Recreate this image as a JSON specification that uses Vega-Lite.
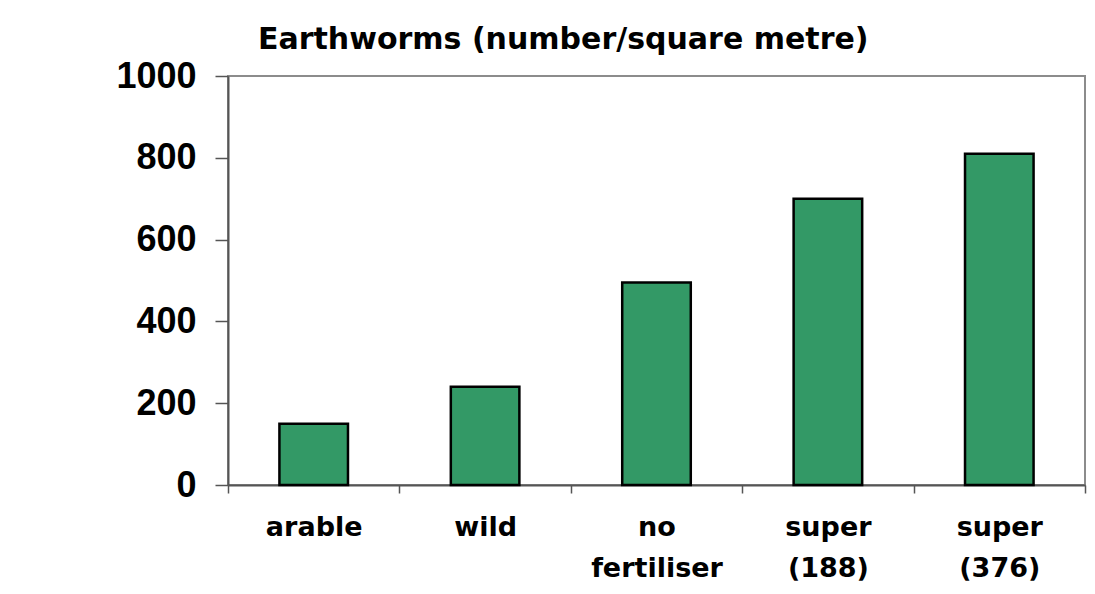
{
  "$schema": "https://vega.github.io/schema/vega-lite/v6.json",
  "width": 857,
  "height": 409,
  "autosize": "none",
  "padding": {"left": 228, "top": 76, "right": 10, "bottom": 109},
  "background": "white",
  "title": {
    "text": "Earthworms (number/square metre)",
    "anchor": "start",
    "frame": "group",
    "dx": 30,
    "offset": -21,
    "baseline": "alphabetic",
    "font": "DejaVu Sans",
    "fontSize": 30,
    "fontWeight": "bold",
    "color": "black"
  },
  "data": {
    "values": [
      {"land": "arable", "earthworms": 150},
      {"land": "wild", "earthworms": 240},
      {"land": "no fertiliser", "earthworms": 495},
      {"land": "super (188)", "earthworms": 700},
      {"land": "super (376)", "earthworms": 810}
    ]
  },
  "mark": {"type": "bar", "fill": "#339966", "stroke": "black", "strokeWidth": 2.5, "width": {"band": 0.4}},
  "encoding": {
    "x": {
      "field": "land",
      "type": "nominal",
      "sort": null,
      "scale": {"paddingInner": 0, "paddingOuter": 0},
      "axis": {
        "title": null,
        "labelAngle": 0,
        "tickBand": "extent",
        "tickSize": 8,
        "tickColor": "#555555",
        "tickWidth": 1.5,
        "domainColor": "#555555",
        "domainWidth": 2,
        "labelFont": "DejaVu Sans",
        "labelFontSize": 27,
        "labelFontWeight": "bold",
        "labelColor": "black",
        "labelPadding": 21,
        "labelLineHeight": 41,
        "labelExpr": "split(datum.label, ' ')",
        "grid": false
      }
    },
    "y": {
      "field": "earthworms",
      "type": "quantitative",
      "scale": {"domain": [0, 1000]},
      "axis": {
        "title": null,
        "values": [0, 200, 400, 600, 800, 1000],
        "format": "d",
        "tickSize": 13,
        "tickColor": "#555555",
        "tickWidth": 1.5,
        "domainColor": "#555555",
        "domainWidth": 2,
        "labelFont": "Liberation Sans",
        "labelFontSize": 36,
        "labelFontWeight": "bold",
        "labelColor": "black",
        "labelPadding": 19,
        "labelFlush": false,
        "labelOverlap": false,
        "grid": false
      }
    }
  },
  "config": {"view": {"stroke": "#8c8c8c", "strokeWidth": 2}}
}
